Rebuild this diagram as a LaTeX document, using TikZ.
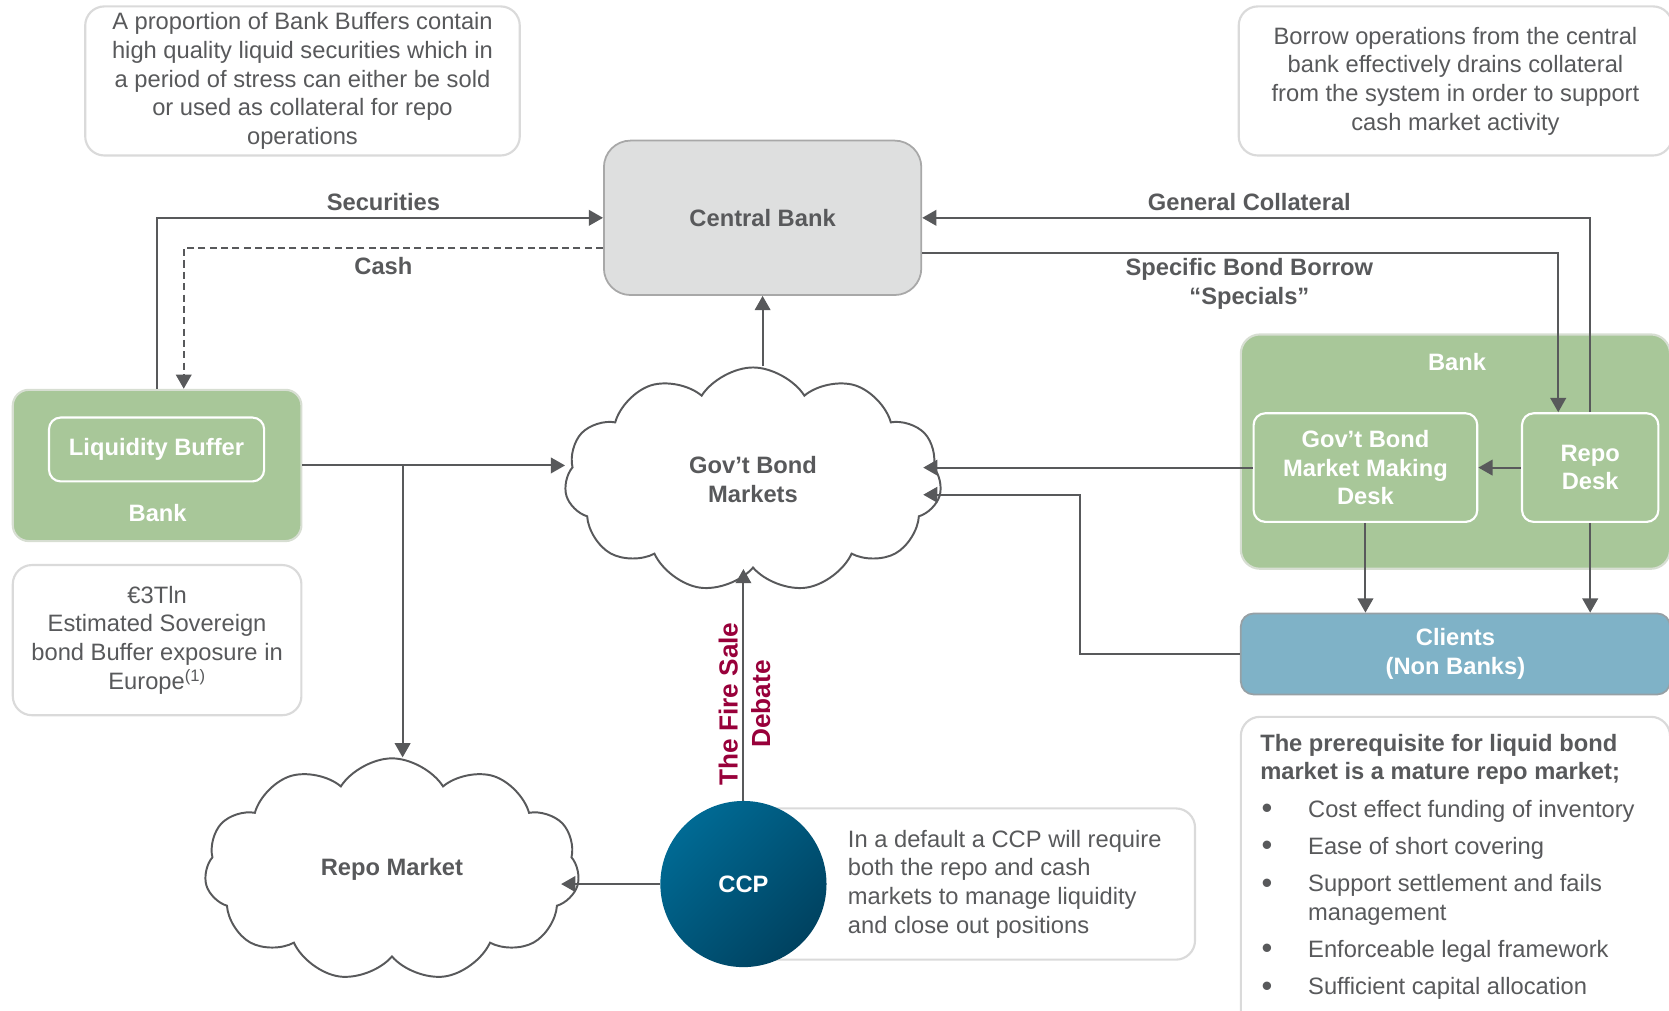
\documentclass[tikz,border=0pt]{standalone}
\usepackage{fontspec}
\setmainfont{Liberation Sans}
\usetikzlibrary{arrows.meta,shapes.symbols,calc}

\definecolor{txtgray}{RGB}{88,89,91}
\definecolor{linegray}{RGB}{88,89,91}
\definecolor{noteline}{RGB}{218,218,218}
\definecolor{cbfill}{RGB}{222,223,223}
\definecolor{cbline}{RGB}{168,168,168}
\definecolor{bankgreen}{RGB}{168,199,153}
\definecolor{greenline}{RGB}{215,222,210}
\definecolor{clientblue}{RGB}{127,178,199}
\definecolor{clientline}{RGB}{150,160,165}
\definecolor{ccptop}{RGB}{0,106,148}
\definecolor{ccpbot}{RGB}{0,66,96}
\definecolor{firered}{RGB}{152,0,58}

\newcommand{\bulitem}{\makebox[13.5mm][l]{\hspace{0.4mm}\raisebox{-0.4mm}{\scalebox{1.3}{\textbullet}}}}

\begin{document}
\begin{tikzpicture}[x=0.3mm, y=-0.3mm,
    every node/.style={font=\fontsize{19}{23}\selectfont, text=txtgray},
    boldtext/.style={font=\fontsize{19}{23}\selectfont\bfseries},
    note/.style={draw=noteline, line width=0.6mm, rounded corners=5.4mm, fill=white, align=center, inner sep=0pt},
    greenbox/.style={draw=greenline, line width=0.6mm, fill=bankgreen, rounded corners=4.5mm},
    deskbox/.style={draw=white, line width=0.6mm, rounded corners=3.3mm, text=white, boldtext, align=center, inner sep=0pt},
    market/.style={cloud, cloud puffs=11, cloud puff arc=115, cloud ignores aspect, draw=linegray, line width=0.55mm, fill=white, boldtext, align=center, inner sep=0pt},
    conn/.style={draw=linegray, line width=0.55mm, -{Triangle[length=4mm,width=4.4mm]}}]

    \useasboundingbox (0,0) rectangle (1567,949);

    % Define the note boxes at the top
    \node[note, minimum width=122.4mm, minimum height=42mm] (lnote) at (284,76)
        {A proportion of Bank Buffers contain\\high quality liquid securities which in\\a period of stress can either be sold\\or used as collateral for repo\\operations};
    \node[note, minimum width=122.1mm, minimum height=42mm] (rnote) at (1366.5,76)
        {Borrow operations from the central\\bank effectively drains collateral\\from the system in order to support\\cash market activity};

    % Central bank
    \node[draw=cbline, line width=0.5mm, fill=cbfill, rounded corners=7.5mm, minimum width=89.4mm, minimum height=43.5mm, boldtext] (cbank) at (716,204.5) {Central Bank};

    % Bank with its liquidity buffer (left)
    \node[greenbox, minimum width=81.3mm, minimum height=42.6mm] (lbank) at (147.5,437) {};
    \node[deskbox, minimum width=60.6mm, minimum height=18mm] (liqbuf) at (147,422) {Liquidity Buffer};
    \node[boldtext, text=white] (lbanklbl) at (148,482) {Bank};
    \node[note, minimum width=81.3mm, minimum height=42.3mm] (eunote) at (147.5,601)
        {€3Tln\\Estimated Sovereign\\bond Buffer exposure in\\Europe\textsuperscript{(1)}};

    % The two markets
    \node[market, minimum width=106.2mm, minimum height=63.3mm] (govmkt) at (707,450.5) {Gov’t Bond\\Markets};
    \node[market, minimum width=105.6mm, minimum height=62.7mm] (repomkt) at (368,816.5) {Repo Market};

    % Bank with its desks (right)
    \node[greenbox, rounded corners=5.4mm, minimum width=120.9mm, minimum height=66mm] (rbank) at (1366.5,424) {};
    \node[boldtext, text=white] (rbanklbl) at (1368,340) {Bank};
    \node[deskbox, minimum width=63mm, minimum height=30.6mm] (mmdesk) at (1282,439) {Gov’t Bond\\Market Making\\Desk};
    \node[deskbox, minimum width=38.4mm, minimum height=30.6mm] (repodesk) at (1493,439) {Repo\\Desk};
    \node[draw=clientline, line width=0.5mm, fill=clientblue, rounded corners=3.6mm, minimum width=120.9mm, minimum height=22.8mm, boldtext, text=white, align=center] (clients) at (1366.5,614) {Clients\\(Non Banks)};

    % Prerequisites box
    \node[note, minimum width=120.9mm, minimum height=92.4mm, anchor=north] (prereqbox) at (1366.5,672) {};
    \node[anchor=north west, align=left, inner sep=0pt] (prereq) at (1183,689)
        {\textbf{The prerequisite for liquid bond}\\
         \textbf{market is a mature repo market;}\\[2.4mm]
         \bulitem Cost effect funding of inventory\\[2.4mm]
         \bulitem Ease of short covering\\[2.4mm]
         \bulitem Support settlement and fails\\
         \hspace*{13.5mm}management\\[2.4mm]
         \bulitem Enforceable legal framework\\[2.4mm]
         \bulitem Sufficient capital allocation};

    % CCP and its note
    \node[note, minimum width=129.6mm, minimum height=42.6mm] (ccpnote) at (906,830) {};
    \node[anchor=west, align=left] (ccptext) at (792,830)
        {In a default a CCP will require\\both the repo and cash\\markets to manage liquidity\\and close out positions};
    \node[circle, minimum size=46.8mm, top color=ccptop, bottom color=ccpbot, shading angle=45, boldtext, text=white] (ccp) at (698,830) {CCP};

    % Draw the connectors
    \draw[conn] (lbank.north) |- (cbank.west);
    \draw[conn, dash pattern=on 2mm off 1.2mm] ([yshift=-8.5mm]cbank.west) -| ([xshift=7.5mm]lbank.north);
    \draw[conn] (repodesk.north) |- (cbank.east);
    \draw[conn] ([yshift=-10mm]cbank.east) -| ([xshift=-9mm]repodesk.north);
    \draw[conn] (govmkt.north -| cbank.south) -- (cbank.south);

    \coordinate (split) at ($(lbank.east)+(94,0)$);
    \draw[conn] (lbank.east) -- (lbank.east -| govmkt.west);
    \draw[conn] (split) -- (split |- repomkt.north);

    \coordinate (govin) at ([xshift=-5mm]govmkt.east);
    \draw[conn] (mmdesk.west) -- (mmdesk.west -| govin);
    \draw[conn] (repodesk.west) -- (mmdesk.east);
    \draw[conn] (mmdesk.south) -- (mmdesk.south |- clients.north);
    \draw[conn] (repodesk.south) -- (repodesk.south |- clients.north);
    \draw[conn] (clients.west) -- ++(-150,0) |- ($(govin)+(0,14)$);

    \coordinate (repoin) at ([xshift=-5mm]repomkt.east);
    \draw[conn] (ccp.north) -- (ccp.north |- govmkt.south);
    \draw[conn] (ccp.west) -- (ccp.west -| repoin);

    % Draw the labels for the connectors
    \node[boldtext] (seclbl) at (360,190) {Securities};
    \node[boldtext] (cashlbl) at (360,250) {Cash};
    \node[boldtext] (gclbl) at (1173,190) {General Collateral};
    \node[boldtext, align=center] (sbblbl) at (1173,266.5) {Specific Bond Borrow\\“Specials”};
    \node[rotate=90, font=\fontsize{21}{25}\selectfont\bfseries, text=firered, align=center] (firesale) at (699,661) {The Fire Sale\\[0.3mm]Debate};

\end{tikzpicture}
\end{document}
